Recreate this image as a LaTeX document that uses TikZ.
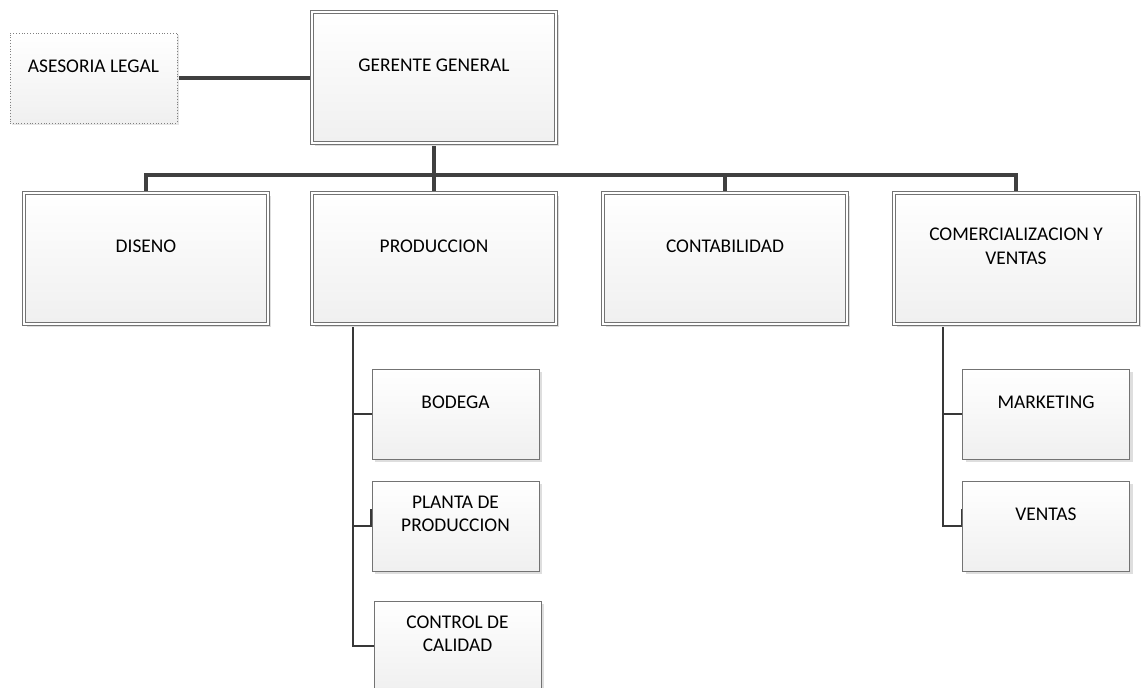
\documentclass[tikz,border=0pt]{standalone}
\usepackage{fontspec}
\setmainfont{Carlito}
\usetikzlibrary{shadows,backgrounds}
\begin{document}
\begin{tikzpicture}[x=1pt,y=-1pt,
  font=\fontsize{19.4}{23.5}\selectfont,
  basebox/.style={rectangle, inner sep=0pt, top color=white, bottom color=black!6,
    draw=black!55, line width=0.9pt,
    drop shadow={shadow xshift=3pt, shadow yshift=-3pt, fill=black!13, opacity=1}},
  bigbox/.style={basebox, double=white, double distance=2.5pt,
    minimum width=244pt, minimum height=131pt},
  smallbox/.style={basebox, minimum width=167pt, minimum height=90pt},
  legalbox/.style={rectangle, inner sep=0pt, top color=white, bottom color=black!6,
    draw=black!50, line width=0.8pt, dotted,
    minimum width=167pt, minimum height=90pt,
    drop shadow={shadow xshift=2pt, shadow yshift=-2pt, fill=black!10, opacity=1}},
  boxtext/.style={yshift=12pt, align=center, inner sep=0pt, text=black},
  conn/.style={draw=black!75, line width=3.2pt},
  subconn/.style={draw=black!78, line width=2.8pt}
]
\useasboundingbox (0,0) rectangle (1141,688);

\node[legalbox, label={[boxtext, name=legal-t]center:ASESORIA LEGAL}] (legal) at (93.5,78) {};
\node[bigbox, label={[boxtext, name=gm-t]center:GERENTE GENERAL}] (gm) at (434,77.5) {};

\node[bigbox, label={[boxtext, name=dis-t]center:DISENO}] (dis) at (146,258.5) {};
\node[bigbox, label={[boxtext, name=prod-t]center:PRODUCCION}] (prod) at (434,258.5) {};
\node[bigbox, label={[boxtext, name=cont-t]center:CONTABILIDAD}] (cont) at (725,258.5) {};
\node[bigbox, label={[boxtext, name=com-t]center:COMERCIALIZACION Y\\VENTAS}] (com) at (1016,258.5) {};

\node[smallbox, label={[boxtext, name=bod-t]center:BODEGA}] (bod) at (455.5,414) {};
\node[smallbox, label={[boxtext, name=plan-t]center:PLANTA DE\\PRODUCCION}] (plan) at (455.5,526) {};
\node[smallbox, label={[boxtext, name=ctrl-t]center:CONTROL DE\\CALIDAD}] (ctrl) at (457.5,646) {};

\node[smallbox, label={[boxtext, name=mkt-t]center:MARKETING}] (mkt) at (1046,414) {};
\node[smallbox, label={[boxtext, name=ven-t]center:VENTAS}] (ven) at (1046,526) {};

\coordinate (bus) at (0,175);
\coordinate (pstem) at (353,0);
\coordinate (cstem) at (943,0);

\begin{scope}[on background layer]
  \draw[conn] (legal.east) -- (legal.east -| gm.west);
  \draw[conn] (gm.south) -- (prod.north);
  \draw[conn] (dis.north) -- (dis.north |- bus) -- (com.north |- bus) -- (com.north);
  \draw[conn] (cont.north |- bus) -- (cont.north);

  \draw[subconn] (pstem |- prod.south) -- (pstem |- ctrl.west) -- (ctrl.west);
  \draw[subconn] (pstem |- bod.west) -- (bod.west);
  \draw[subconn] (pstem |- plan.west) -- (plan.west) -- ++(0pt,17pt);

  \draw[subconn] (cstem |- com.south) -- (cstem |- ven.west) -- (ven.west) -- ++(0pt,17pt);
  \draw[subconn] (cstem |- mkt.west) -- (mkt.west);
\end{scope}
\end{tikzpicture}
\end{document}
